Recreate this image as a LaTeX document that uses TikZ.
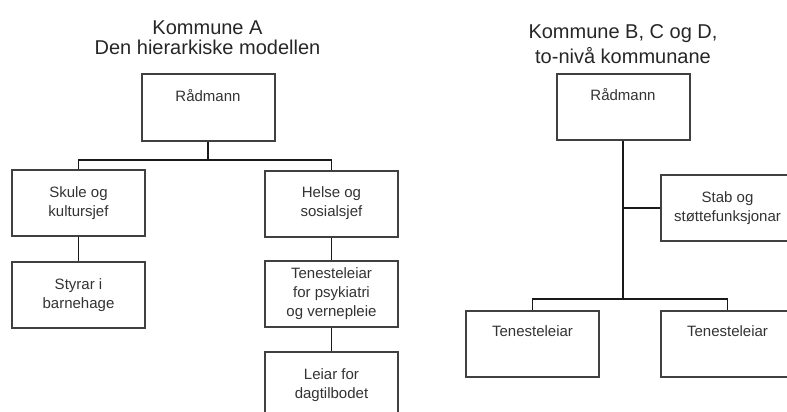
\documentclass[tikz,border=0pt]{standalone}
\usepackage{fontspec}
\setmainfont{Liberation Sans}
\usetikzlibrary{calc}

\begin{document}
\begin{tikzpicture}[x=1pt, y=-1pt,
  orgbox/.style={draw=black!75, line width=2pt, fill=white, minimum width=133pt,
    minimum height=66pt, inner sep=0pt, align=center,
    font=\fontsize{15}{19}\selectfont, text=black!80},
  tittel/.style={align=center, text=black!85},
  linje/.style={draw=black!90, line width=1.8pt}]

% ramme for biletet
\useasboundingbox (0,0) rectangle (787,412);
\clip (0,0) rectangle (787,412);

% Kommune A
\node[tittel, font=\fontsize{20}{20}\selectfont] (titA) at (207.5,38) {Kommune A\\Den hierarkiske modellen};

\node[orgbox] (radA) at (208,107.5) {Rådmann\\\strut};
\node[orgbox] (skule) at (78.5,203) {Skule og\\kultursjef};
\node[orgbox] (styrar) at (78.5,295) {Styrar i\\barnehage};
\node[orgbox] (helse) at (331.5,203.5) {Helse og\\sosialsjef};
\node[orgbox] (psyk) at (331.5,293.5) {Tenesteleiar\\for psykiatri\\og vernepleie};
\node[orgbox] (dag) at (331.5,385) {Leiar for\\dagtilbodet};

\coordinate (busA) at (208,160);
\draw[linje] (radA.south) -- (busA);
\draw[linje] (skule.north) |- (busA) -| (helse.north);
\draw[linje] (skule.south) -- (styrar.north);
\draw[linje] (helse.south) -- (psyk.north);
\draw[linje] (psyk.south) -- (dag.north);

% Kommune B, C og D
\node[tittel, font=\fontsize{20}{25}\selectfont] (titB) at (623,44) {Kommune B, C og D,\\to-nivå kommunane};

\node[orgbox] (radB) at (623,107) {Rådmann\\\strut};
\node[orgbox] (stab) at (727.5,208) {Stab og\\støttefunksjonar};
\node[orgbox] (tl1) at (532.5,343.5) {Tenesteleiar\\\strut};
\node[orgbox] (tl2) at (727.5,343.5) {Tenesteleiar\\\strut};

\coordinate (busB) at (623,299);
\draw[linje] (radB.south) -- (busB);
\draw[linje] (stab.west) -- (stab.west -| radB.south);
\draw[linje] (tl1.north) |- (busB) -| (tl2.north);

\end{tikzpicture}
\end{document}
